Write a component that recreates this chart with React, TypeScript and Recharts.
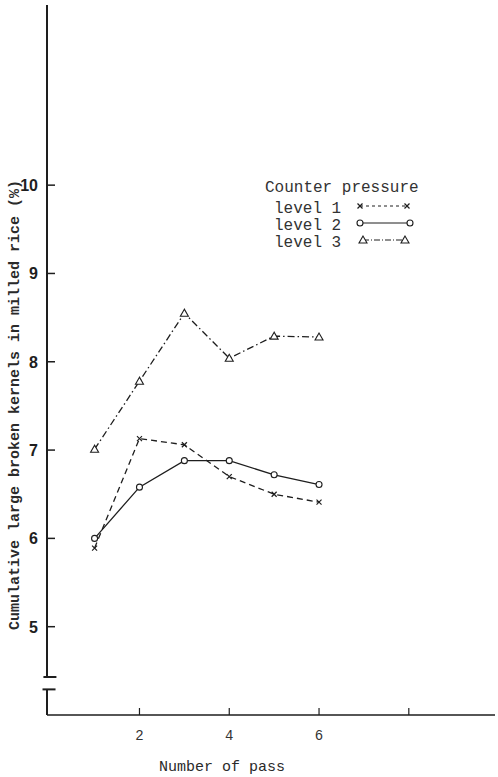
import React from "react";
import { Legend, Line, LineChart, ReferenceLine, XAxis, YAxis } from "recharts";

// number of pass on the x axis
const passes = [1, 2, 3, 4, 5, 6];
// cumulative large broken kernels (%) per counter pressure level
const level1 = [5.89, 7.13, 7.06, 6.7, 6.5, 6.41];
const level2 = [6.0, 6.58, 6.88, 6.88, 6.72, 6.61];
const level3 = [7.01, 7.78, 8.55, 8.04, 8.29, 8.28];

const xTicks = [2, 4, 6, 8];
const xTickLabels = ["2", "4", "6", ""];
const yTicks = [5, 6, 7, 8, 9, 10];
const legendTitle = "Counter pressure";
const seriesNames = ["level 1", "level 2", "level 3"];

const X_MIN = -0.06;
const X_MAX = 9.92;
const Y_MIN = 4;
const Y_MAX = 12.04;
const BREAK_HI = 4.43;
const BREAK_LO = 4.29;

const ink = "#1e1e1e";
const mono = "'Liberation Mono', 'DejaVu Sans Mono', monospace";

const data = passes.map((p, i) => ({
  pass: p,
  l1: level1[i],
  l2: level2[i],
  l3: level3[i],
}));

function CrossDot(props: any) {
  const { cx, cy, index } = props;
  if (cx == null || cy == null) return <g key={index} />;
  return (
    <g key={`c-${index}`} stroke={ink} strokeWidth={1.2}>
      <line x1={cx - 2.5} y1={cy - 2.5} x2={cx + 2.5} y2={cy + 2.5} />
      <line x1={cx - 2.5} y1={cy + 2.5} x2={cx + 2.5} y2={cy - 2.5} />
    </g>
  );
}

function CircleDot(props: any) {
  const { cx, cy, index } = props;
  if (cx == null || cy == null) return <g key={index} />;
  return (
    <circle
      key={`o-${index}`}
      cx={cx}
      cy={cy}
      r={3}
      fill="#fff"
      stroke={ink}
      strokeWidth={1.1}
    />
  );
}

function TriangleDot(props: any) {
  const { cx, cy, index } = props;
  if (cx == null || cy == null) return <g key={index} />;
  return (
    <polygon
      key={`t-${index}`}
      points={`${cx},${cy - 4} ${cx - 4},${cy + 3} ${cx + 4},${cy + 3}`}
      fill="#fff"
      stroke={ink}
      strokeWidth={1.1}
    />
  );
}

function YTick(props: any) {
  const { x, y, payload } = props;
  return (
    <g>
      <line x1={x} y1={y} x2={x + 8} y2={y} stroke={ink} strokeWidth={1.5} />
      <text
        x={x - 9}
        y={y + 6}
        textAnchor="end"
        fontFamily="'Liberation Sans', Arial, sans-serif"
        fontSize={16}
        fontWeight="bold"
        fill={ink}
      >
        {payload.value}
      </text>
    </g>
  );
}

function XTick(props: any) {
  const { x, y, payload } = props;
  const label = xTickLabels[xTicks.indexOf(payload.value)];
  return (
    <g>
      <line x1={x} y1={y} x2={x} y2={y - 7} stroke={ink} strokeWidth={1.2} />
      <text
        x={x}
        y={y + 25}
        textAnchor="middle"
        fontFamily={mono}
        fontSize={14}
        fill="#333"
      >
        {label}
      </text>
    </g>
  );
}

function AxisTitle(props: any) {
  const { posX, posY, rot, text, size, weight } = props;
  return (
    <text
      x={posX}
      y={posY}
      textAnchor="middle"
      transform={rot ? `rotate(${rot} ${posX} ${posY})` : undefined}
      fontFamily={mono}
      fontSize={size}
      fontWeight={weight || "normal"}
      fill="#2a2a2a"
    >
      {text}
    </text>
  );
}

function LegendBox() {
  const rows = [211, 228, 245];
  return (
    <svg width={240} height={90}>
      <text x={10} y={192 - 175} fontFamily={mono} fontSize={16} fill="#333">
        {legendTitle}
      </text>
      {seriesNames.map((name, i) => (
        <text
          key={name}
          x={19}
          y={rows[i] - 175 + 2}
          fontFamily={mono}
          fontSize={16}
          fill="#333"
        >
          {name}
        </text>
      ))}
      <g stroke={ink} strokeWidth={1}>
        <line x1={105} y1={rows[0] - 180} x2={152} y2={rows[0] - 180} strokeDasharray="3 3" />
        <line x1={105} y1={rows[1] - 180} x2={155} y2={rows[1] - 180} />
        <line x1={108} y1={rows[2] - 180} x2={150} y2={rows[2] - 180} strokeDasharray="6 2 1 2" />
      </g>
      <CrossDot cx={105} cy={rows[0] - 180} index={0} />
      <CrossDot cx={152} cy={rows[0] - 180} index={1} />
      <CircleDot cx={105} cy={rows[1] - 180} index={0} />
      <CircleDot cx={155} cy={rows[1] - 180} index={1} />
      <TriangleDot cx={108} cy={rows[2] - 180} index={0} />
      <TriangleDot cx={150} cy={rows[2] - 180} index={1} />
    </svg>
  );
}

export default function App() {
  return (
    <div style={{ position: "absolute", left: 0, top: 0, background: "#fff" }}>
      <LineChart
        width={498}
        height={777}
        data={data}
        margin={{ top: 5, right: 3, left: 0, bottom: 0 }}
      >
        <XAxis
          dataKey="pass"
          type="number"
          domain={[X_MIN, X_MAX]}
          ticks={xTicks}
          allowDataOverflow
          height={62}
          axisLine={{ stroke: ink, strokeWidth: 1.6 }}
          tickLine={false}
          tickSize={0}
          tickMargin={0}
          tick={<XTick />}
          label={<AxisTitle posX={222} posY={771} text="Number of pass" size={15} />}
        />
        <YAxis
          type="number"
          domain={[Y_MIN, Y_MAX]}
          ticks={yTicks}
          allowDataOverflow
          width={47}
          axisLine={false}
          tickLine={false}
          tickSize={0}
          tickMargin={0}
          interval={0}
          tick={<YTick />}
          label={
            <AxisTitle
              posX={19}
              posY={405}
              rot={-90}
              text="Cumulative large broken kernels in milled rice (%)"
              size={15}
              weight="bold"
            />
          }
        />
        <ReferenceLine
          segment={[
            { x: X_MIN, y: Y_MAX },
            { x: X_MIN, y: BREAK_HI },
          ]}
          stroke={ink}
          strokeWidth={2}
          ifOverflow="visible"
        />
        <ReferenceLine
          segment={[
            { x: X_MIN, y: BREAK_LO },
            { x: X_MIN, y: Y_MIN },
          ]}
          stroke={ink}
          strokeWidth={2}
          ifOverflow="visible"
        />
        <ReferenceLine
          segment={[
            { x: -0.14, y: BREAK_HI },
            { x: 0.15, y: BREAK_HI },
          ]}
          stroke={ink}
          strokeWidth={2}
          ifOverflow="visible"
        />
        <ReferenceLine
          segment={[
            { x: -0.16, y: BREAK_LO },
            { x: 0.13, y: BREAK_LO },
          ]}
          stroke={ink}
          strokeWidth={2}
          ifOverflow="visible"
        />
        <Legend
          layout="horizontal"
          verticalAlign="middle"
          align="center"
          wrapperStyle={{ left: 255, top: 175, width: 240, height: 90 }}
          content={() => <LegendBox />}
        />
        <Line
          dataKey="l1"
          name={seriesNames[0]}
          type="linear"
          stroke={ink}
          strokeWidth={1.3}
          strokeDasharray="6 4"
          dot={<CrossDot />}
          activeDot={false}
          isAnimationActive={false}
        />
        <Line
          dataKey="l2"
          name={seriesNames[1]}
          type="linear"
          stroke={ink}
          strokeWidth={1.3}
          dot={<CircleDot />}
          activeDot={false}
          isAnimationActive={false}
        />
        <Line
          dataKey="l3"
          name={seriesNames[2]}
          type="linear"
          stroke={ink}
          strokeWidth={1.3}
          strokeDasharray="7 3 1.5 3"
          dot={<TriangleDot />}
          activeDot={false}
          isAnimationActive={false}
        />
      </LineChart>
    </div>
  );
}
